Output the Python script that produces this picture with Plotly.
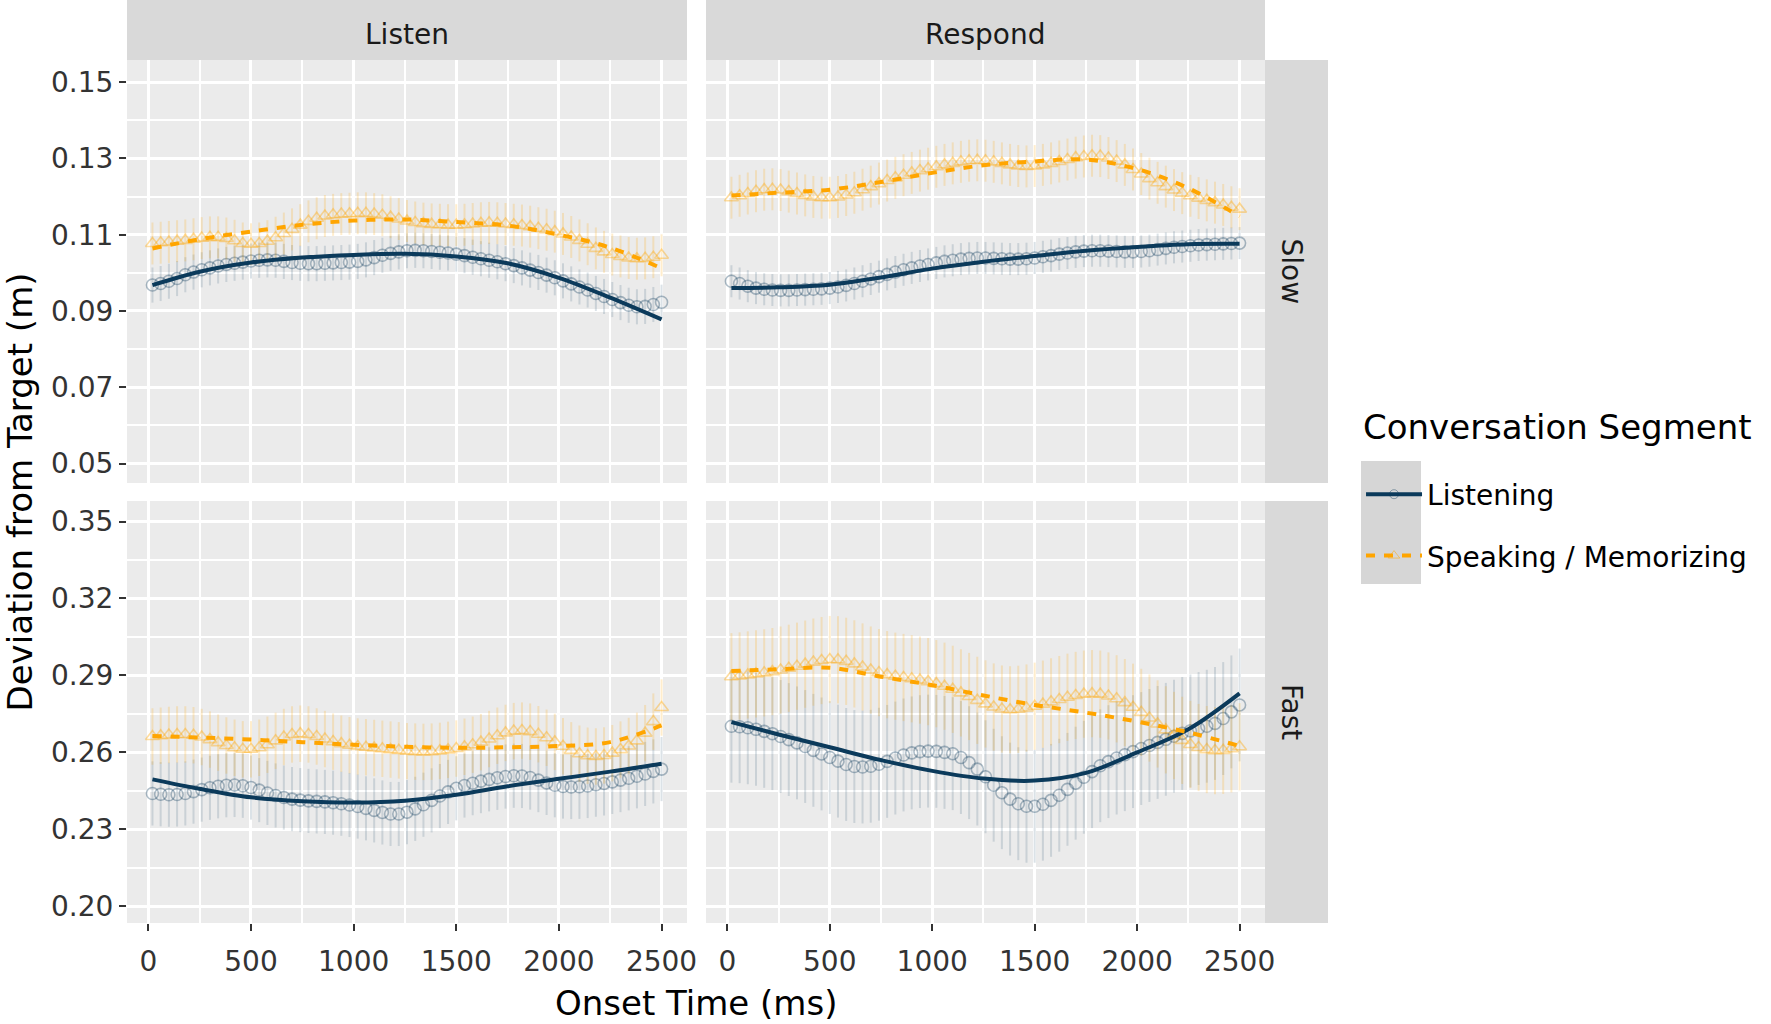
import plotly.graph_objects as go

# onset times of the plotted points (ms) and of the smoothed fit
time_ms = list(range(20, 2501, 40))
fit_ms = [20, 250, 500, 750, 1000, 1250, 1500, 1750, 2000, 2250, 2500]

# Listen / Slow
ls_listening = [.0968, .0972, .0978, .0985, .0995, .1002, .1008, .1013, .1018, .1022,
                .1025, .1028, .1031, .1033, .1034, .1033, .1030, .1027, .1025, .1024,
                .1024, .1025, .1026, .1027, .1028, .1030, .1034, .1040, .1046, .1051,
                .1055, .1058, .1059, .1058, .1056, .1054, .1052, .1049, .1045, .1041,
                .1037, .1033, .1029, .1024, .1019, .1013, .1007, .1001, .0994, .0987,
                .0979, .0971, .0963, .0955, .0946, .0938, .0930, .0922, .0915, .0911,
                .0912, .0917, .0923]
ls_speaking = [.1077, .1079, .1081, .1083, .1085, .1088, .1091, .1093, .1093, .1090,
               .1084, .1077, .1075, .1077, .1083, .1092, .1103, .1114, .1125, .1135,
               .1143, .1149, .1152, .1154, .1155, .1156, .1156, .1154, .1151, .1146,
               .1141, .1136, .1132, .1129, .1127, .1126, .1125, .1125, .1126, .1128,
               .1130, .1131, .1130, .1128, .1126, .1124, .1121, .1117, .1113, .1108,
               .1102, .1094, .1085, .1075, .1064, .1055, .1048, .1043, .1039, .1037,
               .1038, .1041, .1046]
ls_listening_fit = [.0968, .1003, .1027, .1040, .1047, .1050, .1043, .1025, .0987, .0935, .0878]
ls_speaking_fit = [.1064, .1088, .1108, .1126, .1137, .1140, .1133, .1124, .1100, .1066, .1012]

# Respond / Slow
rs_listening = [.0978, .0972, .0965, .0960, .0957, .0955, .0954, .0954, .0955, .0956,
                .0957, .0958, .0960, .0963, .0967, .0972, .0978, .0984, .0990, .0996,
                .1002, .1008, .1013, .1018, .1022, .1026, .1030, .1033, .1036, .1038,
                .1039, .1039, .1038, .1037, .1036, .1036, .1037, .1039, .1042, .1045,
                .1049, .1052, .1055, .1057, .1058, .1058, .1057, .1056, .1055, .1055,
                .1056, .1058, .1061, .1064, .1067, .1069, .1071, .1073, .1074, .1075,
                .1076, .1077, .1078]
rs_speaking = [.1197, .1202, .1208, .1214, .1218, .1219, .1217, .1213, .1208, .1203,
               .1199, .1197, .1197, .1199, .1204, .1210, .1218, .1226, .1234, .1242,
               .1249, .1256, .1262, .1268, .1273, .1278, .1283, .1287, .1291, .1294,
               .1295, .1294, .1291, .1287, .1283, .1280, .1279, .1280, .1283, .1287,
               .1292, .1297, .1302, .1305, .1307, .1306, .1301, .1293, .1283, .1271,
               .1259, .1247, .1236, .1226, .1217, .1209, .1202, .1196, .1190, .1184,
               .1178, .1172, .1167]
rs_listening_fit = [.0960, .0962, .0969, .0988, .1011, .1029, .1044, .1058, .1068, .1075, .1076]
rs_speaking_fit = [.1203, .1210, .1218, .1238, .1262, .1282, .1292, .1297, .1272, .1222, .1148]

# Listen / Fast
lf_listening = [.2440, .2437, .2435, .2436, .2440, .2447, .2455, .2462, .2468, .2472,
                .2473, .2470, .2463, .2453, .2442, .2432, .2424, .2418, .2414, .2411,
                .2409, .2407, .2404, .2400, .2395, .2389, .2382, .2374, .2366, .2360,
                .2360, .2367, .2380, .2396, .2413, .2430, .2446, .2460, .2471, .2480,
                .2488, .2495, .2501, .2506, .2509, .2508, .2502, .2492, .2481, .2472,
                .2467, .2465, .2466, .2469, .2474, .2479, .2485, .2492, .2499, .2507,
                .2516, .2526, .2535]
lf_speaking = [.2662, .2665, .2668, .2670, .2670, .2667, .2660, .2650, .2638, .2627,
               .2618, .2612, .2612, .2618, .2630, .2645, .2660, .2670, .2673, .2670,
               .2662, .2652, .2642, .2634, .2628, .2623, .2620, .2617, .2614, .2611,
               .2608, .2605, .2603, .2602, .2603, .2606, .2610, .2615, .2622, .2630,
               .2640, .2652, .2665, .2676, .2683, .2685, .2681, .2671, .2657, .2641,
               .2624, .2608, .2595, .2587, .2584, .2588, .2597, .2611, .2625, .2645,
               .2675, .2720, .2775]
lf_listening_fit = [.2495, .2458, .2425, .2410, .2405, .2412, .2435, .2468, .2497, .2525, .2556]
lf_speaking_fit = [.2664, .2658, .2650, .2640, .2630, .2622, .2618, .2620, .2625, .2640, .2705]

# Respond / Fast
rf_listening = [.2702, .2700, .2696, .2690, .2682, .2673, .2662, .2650, .2637, .2623,
                .2608, .2594, .2580, .2566, .2553, .2545, .2543, .2546, .2554, .2565,
                .2578, .2590, .2598, .2603, .2605, .2604, .2600, .2595, .2580, .2560,
                .2535, .2505, .2472, .2443, .2418, .2400, .2390, .2390, .2398, .2413,
                .2433, .2456, .2480, .2503, .2525, .2548, .2564, .2578, .2591, .2603,
                .2615, .2627, .2639, .2651, .2663, .2674, .2684, .2693, .2702, .2713,
                .2732, .2758, .2785]
rf_speaking = [.2895, .2898, .2902, .2906, .2910, .2915, .2921, .2928, .2936, .2944,
               .2952, .2958, .2962, .2961, .2955, .2945, .2933, .2921, .2911, .2903,
               .2897, .2892, .2887, .2882, .2876, .2868, .2858, .2846, .2832, .2818,
               .2803, .2789, .2777, .2769, .2766, .2768, .2773, .2780, .2788, .2797,
               .2806, .2815, .2822, .2827, .2829, .2827, .2820, .2809, .2794, .2776,
               .2756, .2734, .2711, .2688, .2666, .2647, .2631, .2619, .2611, .2607,
               .2608, .2614, .2622]
rf_listening_fit = [.2718, .2670, .2620, .2570, .2528, .2498, .2490, .2520, .2600, .2690, .2830]
rf_speaking_fit = [.2917, .2924, .2930, .2895, .2862, .2822, .2785, .2755, .2720, .2678, .2625]

# half-width of the error bars, one per panel and segment
err_listening = [0.0046, 0.0042, 0.0125, 0.0220]
err_speaking = [0.0055, 0.0055, 0.0110, 0.0170]

NAVY = "#0B3A5B"
ORANGE = "#FFA500"
FONT = "DejaVu Sans"

panels = [
    ("x", "y", ls_listening, ls_speaking, ls_listening_fit, ls_speaking_fit),
    ("x2", "y2", rs_listening, rs_speaking, rs_listening_fit, rs_speaking_fit),
    ("x3", "y3", lf_listening, lf_speaking, lf_listening_fit, lf_speaking_fit),
    ("x4", "y4", rf_listening, rf_speaking, rf_listening_fit, rf_speaking_fit),
]

fig = go.Figure()
for i, (xa, ya, lis, spk, lis_fit, spk_fit) in enumerate(panels):
    fig.add_trace(go.Scatter(
        x=time_ms, y=lis, xaxis=xa, yaxis=ya, mode="markers", showlegend=False,
        marker=dict(symbol="circle-open", size=12, color="rgba(11,58,91,0.33)", line=dict(width=1.6)),
        error_y=dict(type="constant", value=err_listening[i], width=0, thickness=2,
                     color="rgba(11,58,91,0.15)")))
    fig.add_trace(go.Scatter(
        x=time_ms, y=spk, xaxis=xa, yaxis=ya, mode="markers", showlegend=False,
        marker=dict(symbol="triangle-up-open", size=12, color="rgba(255,165,0,0.38)", line=dict(width=1.6)),
        error_y=dict(type="constant", value=err_speaking[i], width=0, thickness=2,
                     color="rgba(255,165,0,0.2)")))
    fig.add_trace(go.Scatter(
        x=fit_ms, y=lis_fit, xaxis=xa, yaxis=ya, mode="lines", showlegend=False,
        line=dict(color=NAVY, width=4, shape="spline")))
    fig.add_trace(go.Scatter(
        x=fit_ms, y=spk_fit, xaxis=xa, yaxis=ya, mode="lines", showlegend=False,
        line=dict(color=ORANGE, width=4, dash="9px,9px", shape="spline")))

# legend entries
fig.add_trace(go.Scatter(
    x=[None], y=[None], mode="lines+markers", name="Listening", legendgroup="a",
    line=dict(color=NAVY, width=4),
    marker=dict(symbol="circle-open", size=9, color="rgba(11,58,91,0.4)")))
fig.add_trace(go.Scatter(
    x=[None], y=[None], mode="lines+markers", name="Speaking / Memorizing", legendgroup="b",
    line=dict(color=ORANGE, width=4, dash="9px,9px"),
    marker=dict(symbol="triangle-up-open", size=10, color="rgba(255,165,0,0.5)")))

col_dom = [[0, 0.46628], [0.48210, 0.94754]]
row_dom = [[0.50985, 1.0], [0.0, 0.48899]]
y_ranges = [[0.0449, 0.1558], [0.1935, 0.3580]]
y_major = [dict(tick0=0.05, dtick=0.02), dict(tick0=0.20, dtick=0.03)]
y_minor = [dict(tick0=0.06, dtick=0.02), dict(tick0=0.215, dtick=0.03)]

axis_common = dict(showgrid=True, gridcolor="white", gridwidth=3, zeroline=False,
                   showline=False, tickfont=dict(family=FONT, size=28, color="#333333"),
                   tickcolor="#333333", tickwidth=2, ticklen=7)

layout_axes = {}
for k in range(4):
    r, c = divmod(k, 2)
    suffix = "" if k == 0 else str(k + 1)
    layout_axes["xaxis" + suffix] = dict(
        axis_common, domain=col_dom[c], anchor="y" + suffix, range=[-104, 2624],
        tick0=0, dtick=500, showticklabels=(r == 1), ticks="outside" if r == 1 else "",
        ticklabelstandoff=6,
        minor=dict(tick0=250, dtick=500, showgrid=True, gridcolor="white", gridwidth=1.5))
    layout_axes["yaxis" + suffix] = dict(
        axis_common, domain=row_dom[r], anchor="x" + suffix, range=y_ranges[r],
        tickformat=".2f", showticklabels=(c == 0), ticks="outside" if c == 0 else "",
        minor=dict(showgrid=True, gridcolor="white", gridwidth=1.5, **y_minor[r]),
        **y_major[r])

shapes = []
annotations = []
strip_fill = "#D9D9D9"
for c, (ref, label) in enumerate([("x", "Listen"), ("x2", "Respond")]):
    shapes.append(dict(type="rect", xref=ref + " domain", x0=0, x1=1, yref="paper",
                       y0=1.0, y1=1.0695, fillcolor=strip_fill, line=dict(width=0)))
    annotations.append(dict(text=label, xref=ref + " domain", x=0.5, yref="paper", y=1.029,
                            xanchor="center", yanchor="middle", showarrow=False,
                            font=dict(family=FONT, size=28, color="#1A1A1A")))
for r, (ref, label) in enumerate([("y", "Slow"), ("y3", "Fast")]):
    shapes.append(dict(type="rect", xref="paper", x0=0.94754, x1=1.0, yref=ref + " domain",
                       y0=0, y1=1, fillcolor=strip_fill, line=dict(width=0)))
    annotations.append(dict(text=label, xref="paper", x=0.970, yref=ref + " domain", y=0.5,
                            xanchor="center", yanchor="middle", textangle=90, showarrow=False,
                            font=dict(family=FONT, size=28, color="#1A1A1A")))

# grey legend key background
shapes.append(dict(type="rect", xref="paper", yref="paper", x0=1.02748, x1=1.07744,
                   y0=0.39282, y1=0.53534, fillcolor="#D6D6D6", line=dict(width=0)))

annotations.append(dict(text="Onset Time (ms)", xref="paper", x=0.4738, yref="paper",
                        y=-0.0927, showarrow=False, xanchor="center", yanchor="middle",
                        font=dict(family=FONT, size=34, color="black")))
annotations.append(dict(text="Deviation from Target (m)", xref="paper", x=-0.0891,
                        yref="paper", y=0.5, textangle=-90, showarrow=False,
                        xanchor="center", yanchor="middle",
                        font=dict(family=FONT, size=34, color="black")))
annotations.append(dict(text="Conversation Segment", xref="paper", x=1.0275, yref="paper",
                        y=0.5747, showarrow=False, xanchor="left", yanchor="middle",
                        font=dict(family=FONT, size=34, color="black")))

fig.update_layout(
    width=1771, height=1024,
    margin=dict(l=127, r=443, t=60, b=101),
    paper_bgcolor="white", plot_bgcolor="#EBEBEB",
    font=dict(family=FONT, color="black"),
    shapes=shapes, annotations=annotations,
    legend=dict(font=dict(family=FONT, size=28, color="black"),
                x=1.0275, xanchor="left", y=0.5255, yanchor="top",
                bgcolor="rgba(0,0,0,0)", tracegroupgap=22, itemwidth=56),
    **layout_axes)

fig.write_html("out.html", config={"displayModeBar": False},
               post_script="document.body.style.margin='0px';")
